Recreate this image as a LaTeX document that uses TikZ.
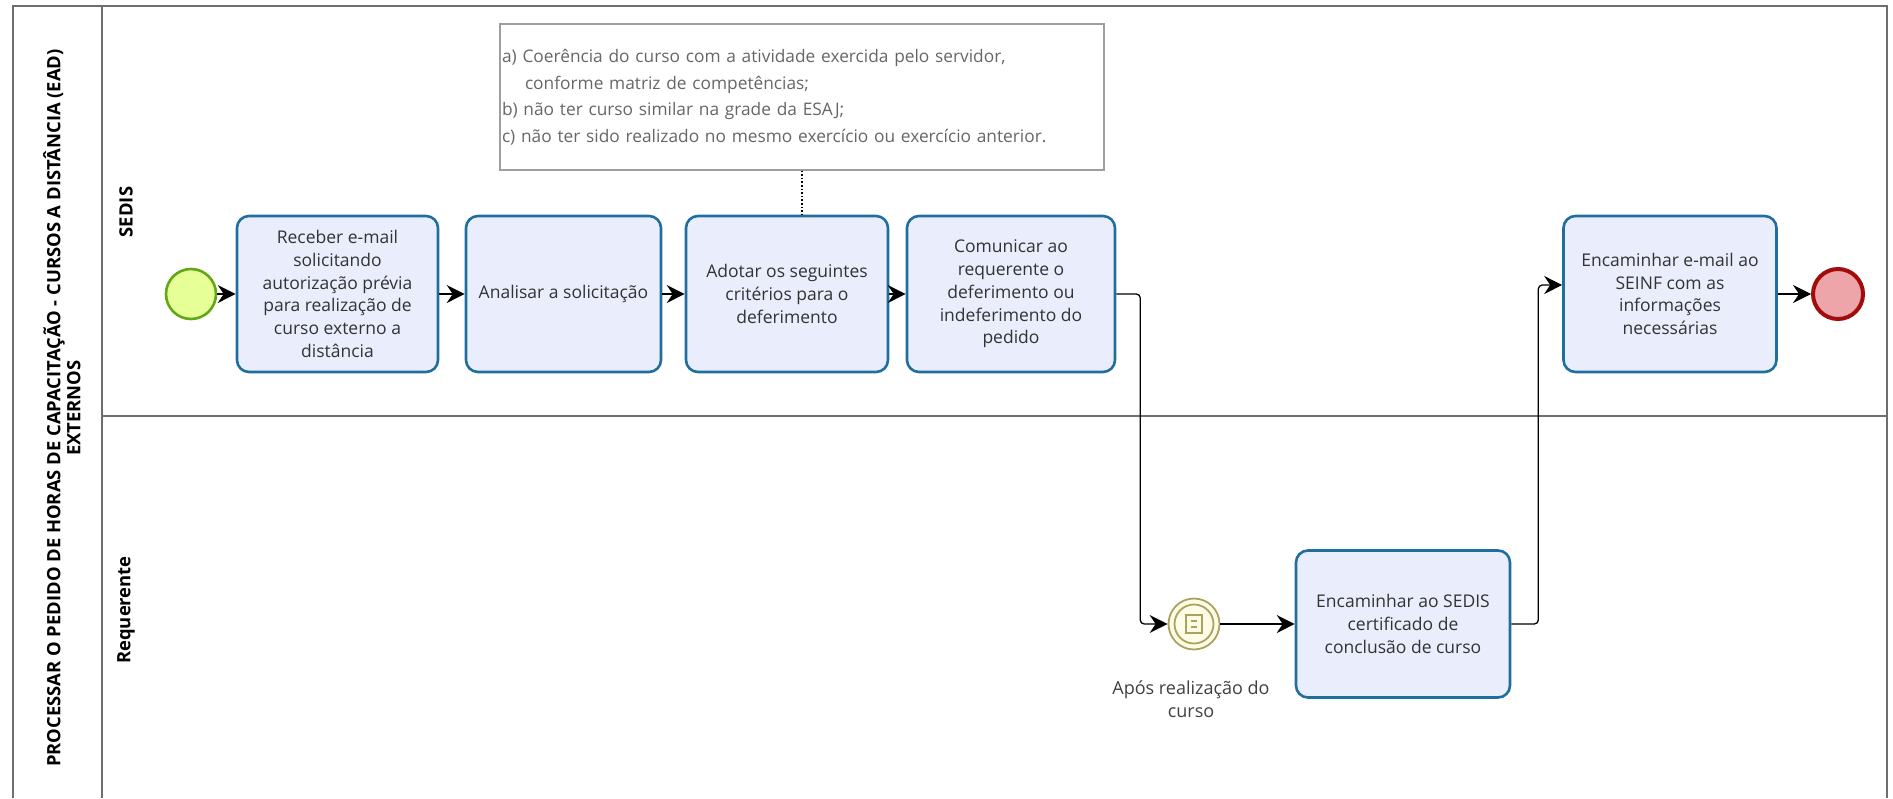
\documentclass[tikz,border=0pt]{standalone}
\usepackage{fontspec}
\setmainfont{Open Sans}
\usetikzlibrary{arrows.meta}
\definecolor{taskfill}{HTML}{E9EDFC}
\definecolor{taskline}{HTML}{1F6E9E}
\definecolor{startfill}{HTML}{E6FF97}
\definecolor{startline}{HTML}{62A716}
\definecolor{endfill}{HTML}{EEA5AA}
\definecolor{endline}{HTML}{A20C0C}
\definecolor{evfill}{HTML}{FEFBE6}
\definecolor{evline}{HTML}{A9A35E}
\definecolor{poolline}{HTML}{6E6E6E}
\definecolor{notetext}{HTML}{666666}
\begin{document}
\begin{tikzpicture}[>={Stealth[length=18pt,width=18pt,inset=6pt]}, x=1pt, y=-1pt,
    task/.style={draw=taskline, fill=taskfill, line width=2.6pt, rounded corners=12pt,
      align=center, inner sep=0pt, minimum height=156pt, text=black!80,
      font=\fontsize{17.5}{22.7}\selectfont},
    flow/.style={->, line width=1.3pt, rounded corners=4pt},
    lanelabel/.style={rotate=90, font=\fontsize{18.4}{20}\selectfont\bfseries}]
  \useasboundingbox (0, 0) rectangle (1893, 798);
  % pool and lanes
  \draw[poolline, line width=1.6pt] (13, 798) -- (13, 6) -- (1887, 6) -- (1887, 798);
  \draw[poolline, line width=1.4pt] (102, 6) -- (102, 798);
  \draw[poolline, line width=1.4pt] (102, 416) -- (1887, 416);
  \node[lanelabel, align=center] (pool) at (62, 408)
    {PROCESSAR O PEDIDO DE HORAS DE CAPACITAÇÃO - CURSOS A DISTÂNCIA (EAD)\\EXTERNOS};
  \node[lanelabel] (sedis) at (126, 212) {SEDIS};
  \node[lanelabel] (req) at (126, 610) {Requerente};
  % SEDIS
  \node[circle, draw=startline, fill=startfill, line width=2.6pt, minimum size=50pt,
    inner sep=0pt] (start) at (191, 294) {};
  \node[task, minimum width=201pt] (t1) at (337.5, 294)
    {Receber e-mail\\solicitando\\autorização prévia\\para realização de\\curso externo a\\distância};
  \node[task, minimum width=195pt] (t2) at (563.5, 294) {Analisar a solicitação};
  \node[task, minimum width=202pt] (t3) at (787, 294)
    {Adotar os seguintes\\critérios para o\\deferimento};
  \node[task, minimum width=208pt] (t4) at (1011, 294)
    {Comunicar ao\\requerente o\\deferimento ou\\indeferimento do\\pedido};
  \node[task, minimum width=213pt] (t5) at (1670, 294)
    {Encaminhar e-mail ao\\SEINF com as\\informações\\necessárias};
  \node[circle, draw=endline, fill=endfill, line width=4pt, minimum size=50pt,
    inner sep=0pt] (end) at (1838, 294) {};
  \node[draw=black!38, line width=1.2pt, minimum width=604pt, minimum height=146pt,
    text width=600pt, inner xsep=2pt, align=left, text=notetext,
    font=\fontsize{17.3}{26.5}\selectfont] (note) at (802, 97)
    {a) Coerência do curso com a atividade exercida pelo servidor,\\
     \hspace*{23pt}conforme matriz de competências;\\
     b) não ter curso similar na grade da ESAJ;\\
     c) não ter sido realizado no mesmo exercício ou exercício anterior.};
  % Requerente
  \node[circle, draw=evline, fill=evfill, line width=1.8pt, minimum size=51pt,
    inner sep=0pt] (wait) at (1194, 624) {};
  \draw[evline, line width=1.8pt] (wait.center) circle (19.5pt);
  \draw[evline, line width=1.6pt] ([xshift=-8pt, yshift=-9pt]wait.center)
    rectangle ([xshift=8pt, yshift=9pt]wait.center);
  \draw[evline, line width=1.6pt] ([xshift=-3pt, yshift=3pt]wait.center) -- ([xshift=3pt, yshift=3pt]wait.center);
  \draw[evline, line width=1.6pt] ([xshift=-3pt, yshift=-3pt]wait.center) -- ([xshift=3pt, yshift=-3pt]wait.center);
  \node[align=center, text=black!75, font=\fontsize{18}{23}\selectfont] (waitlabel) at (1191, 699)
    {Após realização do\\curso};
  \node[task, minimum width=214pt, minimum height=147pt] (t6) at (1403, 624)
    {Encaminhar ao SEDIS\\certificado de\\conclusão de curso};
  % flows
  \draw[flow] (start) -- (t1);
  \draw[flow] (t1) -- (t2);
  \draw[flow] (t2) -- (t3);
  \draw[flow] (t3) -- (t4);
  \draw[flow] (t5) -- (end);
  \draw[flow] (t4.east) -- ++(24, 0) |- (wait);
  \draw[flow] (wait) -- (t6);
  \draw[flow] (t6.east) -- ++(27, 0) |- ([yshift=9pt]t5.west);
  \draw[dotted, line width=1.6pt] (note.south) -- (note.south |- t3.north);
\end{tikzpicture}
\end{document}
